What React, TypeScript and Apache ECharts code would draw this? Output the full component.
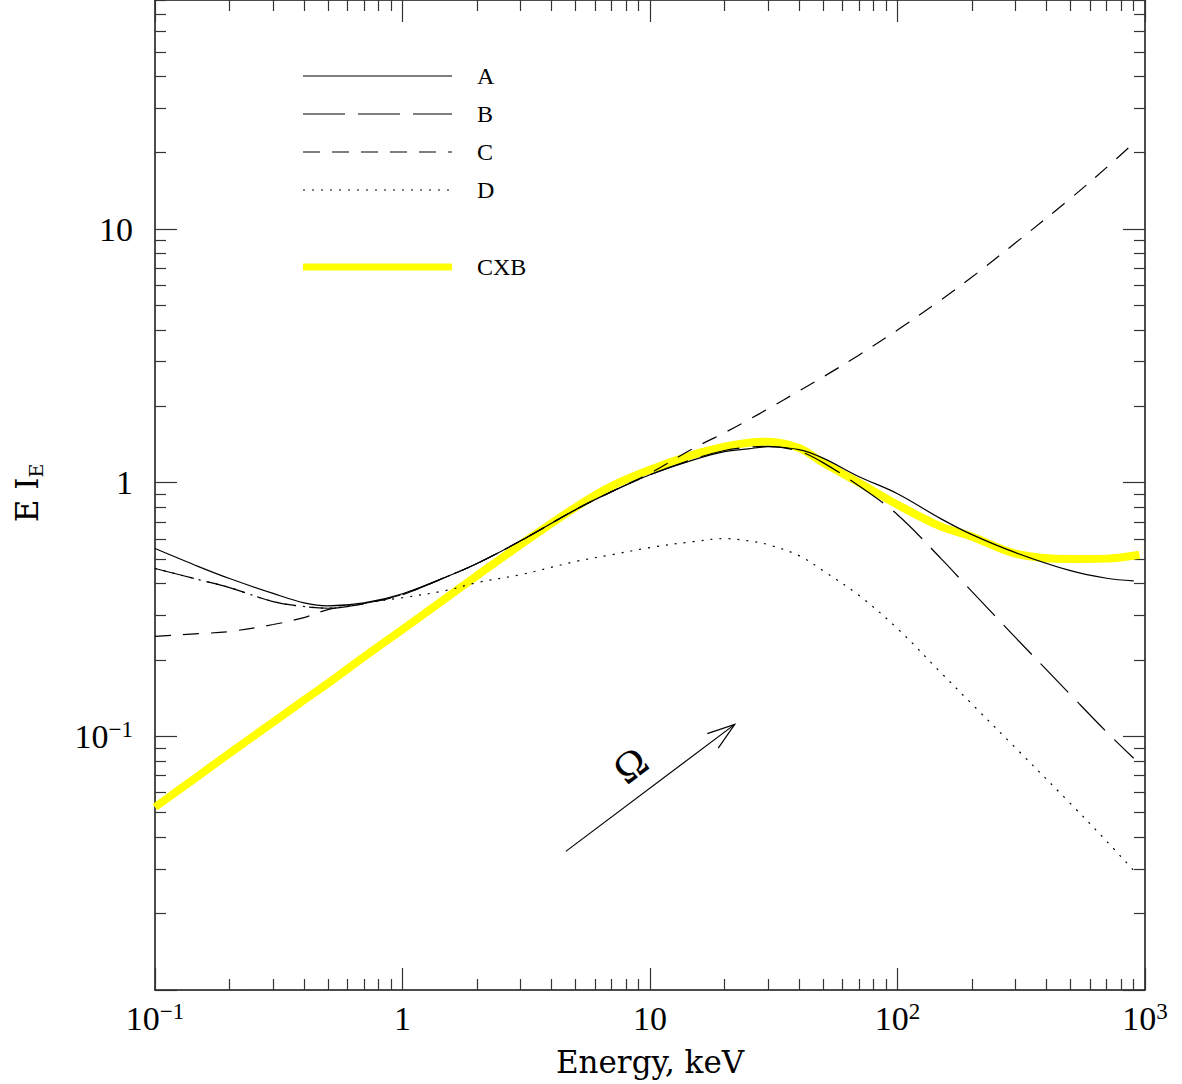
import React, { useEffect, useRef } from "react";
import * as echarts from "echarts";

// ---------- data (keV, E I_E) ----------
const ENERGY_KEV = [0.1, 0.15, 0.2, 0.3, 0.4, 0.5, 0.7, 1, 1.5, 2, 3, 5, 7, 10, 15, 20, 25, 30, 40, 50, 70, 100, 150, 200, 300, 500, 700, 900];
const CURVE_A = [0.55, 0.467, 0.419, 0.366, 0.336, 0.327, 0.336, 0.365, 0.425, 0.48, 0.59, 0.783, 0.922, 1.075, 1.23, 1.325, 1.36, 1.386, 1.35, 1.25, 1.056, 0.905, 0.72, 0.624, 0.53, 0.45, 0.42, 0.41];
const CURVE_B = [0.459, 0.415, 0.386, 0.34, 0.325, 0.32, 0.334, 0.363, 0.425, 0.48, 0.59, 0.783, 0.922, 1.075, 1.24, 1.34, 1.38, 1.39, 1.33, 1.2, 0.97, 0.748, 0.502, 0.372, 0.245, 0.146, 0.104, 0.082];
const CURVE_C = [0.248, 0.254, 0.259, 0.276, 0.294, 0.316, 0.333, 0.362, 0.425, 0.48, 0.59, 0.783, 0.922, 1.09, 1.367, 1.574, 1.77, 1.955, 2.3, 2.61, 3.19, 4.0, 5.26, 6.47, 8.83, 13.2, 17.5, 21.8];
const CURVE_D = [0.459, 0.415, 0.386, 0.34, 0.325, 0.32, 0.336, 0.352, 0.376, 0.404, 0.434, 0.489, 0.52, 0.555, 0.586, 0.602, 0.59, 0.57, 0.516, 0.45, 0.359, 0.266, 0.178, 0.134, 0.09, 0.0543, 0.0386, 0.0296];
const CXB_ENERGY_KEV = [0.1, 0.15, 0.2, 0.3, 0.4, 0.5, 0.7, 1, 1.5, 2, 3, 5, 7, 10, 15, 20, 25, 30, 40, 50, 70, 100, 150, 200, 300, 500, 700, 950];
const CXB = [0.0526, 0.07, 0.0858, 0.1137, 0.139, 0.162, 0.206, 0.264, 0.351, 0.43, 0.57, 0.8, 0.97, 1.125, 1.29, 1.386, 1.437, 1.45, 1.37, 1.2, 1.0, 0.819, 0.671, 0.613, 0.525, 0.5, 0.502, 0.52];

const X_RANGE = [0.1, 1000];
const Y_RANGE = [0.01, 80];
const X_TICK_VALUES = [0.1, 1, 10, 100, 1000];
const X_TICK_LABELS = [["10", "−1"], ["1", ""], ["10", ""], ["10", "2"], ["10", "3"]];
const Y_TICK_VALUES = [0.1, 1, 10];
const Y_TICK_LABELS = [["10", "−1"], ["1", ""], ["10", ""]];
const Y_MAJOR_TICKS = [0.01, 0.1, 1, 10];
const LEGEND_NAMES = ["A", "B", "C", "D", "CXB"];
const X_TITLE = "Energy, keV";
const ARROW_FROM = [4.57, 0.0352];
const ARROW_TO = [22, 0.1115];
const ARROW_LABEL = "Ω";

const FONT = "'Liberation Serif', 'DejaVu Serif', serif";
const WIDE_FONT = "'DejaVu Serif', 'Liberation Serif', serif";
const lg = (v: number) => Math.log10(v);

function minorTicks(lo: number, hi: number): number[] {
  const out: number[] = [];
  for (let d = Math.floor(lg(lo)); d <= Math.ceil(lg(hi)); d++) {
    for (let k = 2; k <= 9; k++) {
      const v = k * Math.pow(10, d);
      if (v > lo && v < hi * 1.0001) out.push(lg(v));
    }
  }
  return out;
}

function pairs(xs: number[], ys: number[]) {
  return xs.map((x, i) => [lg(x), lg(ys[i])]);
}

function makeFormatter(values: number[], labels: string[][]) {
  return (v: number) => {
    let best = 0;
    values.forEach((t, i) => {
      if (Math.abs(lg(t) - v) < Math.abs(lg(values[best]) - v)) best = i;
    });
    const [b, s] = labels[best];
    return s ? `{b|${b}}{s|${s}}` : `{b|${b}}`;
  };
}

const labelRich = {
  b: { fontSize: 34, fontFamily: FONT, color: "#000", lineHeight: 36, verticalAlign: "middle" },
  s: { fontSize: 23, fontFamily: FONT, color: "#000", lineHeight: 22, verticalAlign: "top" },
};

const tickStyle = { color: "#333", width: 1.2 };
const lineAxis = { lineStyle: { color: "#111", width: 1.5 }, onZero: false };

export default function App() {
  const ref = useRef<HTMLDivElement>(null);

  useEffect(() => {
    const el = ref.current;
    if (!el) return;
    const chart = echarts.init(el, undefined, { renderer: "svg" });

    const xMin = lg(X_RANGE[0]);
    const xMax = lg(X_RANGE[1]);
    const yMin = lg(Y_RANGE[0]);
    const yMax = lg(Y_RANGE[1]);
    const xMajor = X_TICK_VALUES.map(lg);
    const xMinor = minorTicks(X_RANGE[0], X_RANGE[1]);
    const yMajor = Y_MAJOR_TICKS.map(lg);
    const yMinor = minorTicks(Y_RANGE[0], Y_RANGE[1]);

    const xBase = { type: "value", min: xMin, max: xMax, splitLine: { show: false }, gridIndex: 0 };
    const yBase = { type: "value", min: yMin, max: yMax, splitLine: { show: false }, gridIndex: 0 };

    const option: any = {
      animation: false,
      backgroundColor: "#fff",
      grid: { left: 155, right: 37, top: 0, bottom: 94, containLabel: false },
      xAxis: [
        {
          ...xBase,
          position: "bottom",
          axisLine: lineAxis,
          axisTick: { inside: true, length: 22, customValues: xMajor, lineStyle: tickStyle },
          axisLabel: {
            customValues: X_TICK_VALUES.map(lg),
            formatter: makeFormatter(X_TICK_VALUES, X_TICK_LABELS),
            rich: labelRich,
            margin: 10,
          },
          name: X_TITLE,
          nameLocation: "middle",
          nameGap: 56,
          nameTextStyle: { fontSize: 31, fontFamily: WIDE_FONT, color: "#000", verticalAlign: "top" },
        },
        {
          ...xBase,
          position: "bottom",
          axisLine: { show: false, onZero: false },
          axisTick: { inside: true, length: 11, customValues: xMinor, lineStyle: tickStyle },
          axisLabel: { show: false },
        },
        {
          ...xBase,
          position: "top",
          axisLine: lineAxis,
          axisTick: { inside: true, length: 22, customValues: xMajor, lineStyle: tickStyle },
          axisLabel: { show: false },
        },
        {
          ...xBase,
          position: "top",
          axisLine: { show: false, onZero: false },
          axisTick: { inside: true, length: 11, customValues: xMinor, lineStyle: tickStyle },
          axisLabel: { show: false },
        },
      ],
      yAxis: [
        {
          ...yBase,
          position: "left",
          axisLine: lineAxis,
          axisTick: { inside: true, length: 22, customValues: yMajor, lineStyle: tickStyle },
          axisLabel: {
            customValues: Y_TICK_VALUES.map(lg),
            formatter: makeFormatter(Y_TICK_VALUES, Y_TICK_LABELS),
            rich: labelRich,
            margin: 22,
          },
        },
        {
          ...yBase,
          position: "left",
          axisLine: { show: false, onZero: false },
          axisTick: { inside: true, length: 11, customValues: yMinor, lineStyle: tickStyle },
          axisLabel: { show: false },
        },
        {
          ...yBase,
          position: "right",
          axisLine: lineAxis,
          axisTick: { inside: true, length: 22, customValues: yMajor, lineStyle: tickStyle },
          axisLabel: { show: false },
        },
        {
          ...yBase,
          position: "right",
          axisLine: { show: false, onZero: false },
          axisTick: { inside: true, length: 11, customValues: yMinor, lineStyle: tickStyle },
          axisLabel: { show: false },
        },
      ],
      series: [
        {
          name: "CXB", type: "line", data: pairs(CXB_ENERGY_KEV, CXB), symbol: "none", smooth: 0.35, z: 2,
          lineStyle: { color: "#ffff00", width: 8, cap: "butt" },
        },
        {
          name: "A", type: "line", data: pairs(ENERGY_KEV, CURVE_A), symbol: "none", smooth: 0.35, z: 3,
          lineStyle: { color: "#000", width: 1.2 },
        },
        {
          name: "B", type: "line", data: pairs(ENERGY_KEV, CURVE_B), symbol: "none", smooth: 0.35, z: 3,
          lineStyle: { color: "#000", width: 1.2, type: [40, 13] },
        },
        {
          name: "C", type: "line", data: pairs(ENERGY_KEV, CURVE_C), symbol: "none", smooth: 0.35, z: 3,
          lineStyle: { color: "#000", width: 1.2, type: [16, 12] },
        },
        {
          name: "D", type: "line", data: pairs(ENERGY_KEV, CURVE_D), symbol: "none", smooth: 0.35, z: 3,
          lineStyle: { color: "#000", width: 1.2, type: [2, 7] },
        },
      ],
    };
    chart.setOption(option);

    // ---- legend, y title, arrow annotation ----
    const legendStyles = [
      { stroke: "#000", lineWidth: 1.2, lineDash: null as any, y: 76 },
      { stroke: "#000", lineWidth: 1.2, lineDash: [42, 13], y: 114 },
      { stroke: "#000", lineWidth: 1.2, lineDash: [17, 12], y: 152 },
      { stroke: "#000", lineWidth: 1.2, lineDash: [2, 7], y: 190 },
      { stroke: "#ffff00", lineWidth: 7, lineDash: null as any, y: 267 },
    ];
    const graphics: any[] = [];
    LEGEND_NAMES.forEach((name, i) => {
      const s = legendStyles[i];
      graphics.push({
        type: "line",
        shape: { x1: 303, y1: s.y, x2: 452, y2: s.y },
        style: { stroke: s.stroke, lineWidth: s.lineWidth, lineDash: s.lineDash },
        z: 10,
      });
      graphics.push({
        type: "text",
        x: 477,
        y: s.y,
        style: { text: name, fontSize: 24, fontFamily: FONT, fill: "#000", align: "left", verticalAlign: "middle" },
        z: 10,
      });
    });

    graphics.push({
      type: "text",
      x: 27,
      y: 493,
      rotation: Math.PI / 2,
      style: {
        text: "{a|E I}{s|E}",
        align: "center",
        verticalAlign: "middle",
        rich: {
          a: { fontSize: 31, fontFamily: WIDE_FONT, fill: "#000", lineHeight: 36, verticalAlign: "middle" },
          s: { fontSize: 19, fontFamily: WIDE_FONT, fill: "#000", lineHeight: 19, verticalAlign: "bottom" },
        },
      },
      z: 10,
    });

    const p0 = chart.convertToPixel({ xAxisIndex: 0, yAxisIndex: 0 }, [lg(ARROW_FROM[0]), lg(ARROW_FROM[1])]) as number[];
    const p1 = chart.convertToPixel({ xAxisIndex: 0, yAxisIndex: 0 }, [lg(ARROW_TO[0]), lg(ARROW_TO[1])]) as number[];
    if (p0 && p1) {
      const dx = p1[0] - p0[0];
      const dy = p1[1] - p0[1];
      const len = Math.hypot(dx, dy);
      const ux = dx / len;
      const uy = dy / len;
      const back = Math.atan2(-uy, -ux);
      const head = 29;
      const spread = 0.32;
      const b1 = [p1[0] + head * Math.cos(back + spread), p1[1] + head * Math.sin(back + spread)];
      const b2 = [p1[0] + head * Math.cos(back - spread), p1[1] + head * Math.sin(back - spread)];
      graphics.push({
        type: "line",
        shape: { x1: p0[0], y1: p0[1], x2: p1[0], y2: p1[1] },
        style: { stroke: "#000", lineWidth: 1.2 },
        z: 10,
      });
      graphics.push({
        type: "polyline",
        shape: { points: [b1, p1, b2] },
        style: { stroke: "#000", lineWidth: 1.2, fill: null },
        z: 10,
      });
      const nx = uy;
      const ny = -ux;
      const mx = (p0[0] + p1[0]) / 2 - 2 * ux + 30 * (nx < 0 ? nx : -nx);
      const my = (p0[1] + p1[1]) / 2 - 2 * uy + 30 * (ny < 0 ? ny : -ny);
      graphics.push({
        type: "text",
        x: mx,
        y: my,
        rotation: Math.atan2(-dy, dx),
        style: { text: ARROW_LABEL, fontSize: 42, fontFamily: FONT, fill: "#000", align: "center", verticalAlign: "middle" },
        z: 10,
      });
    }
    chart.setOption({ graphic: graphics });

    return () => {
      chart.dispose();
    };
  }, []);

  return (
    <div
      ref={ref}
      style={{ position: "absolute", left: 0, top: 0, width: 1182, height: 1084, background: "#fff" }}
    />
  );
}
